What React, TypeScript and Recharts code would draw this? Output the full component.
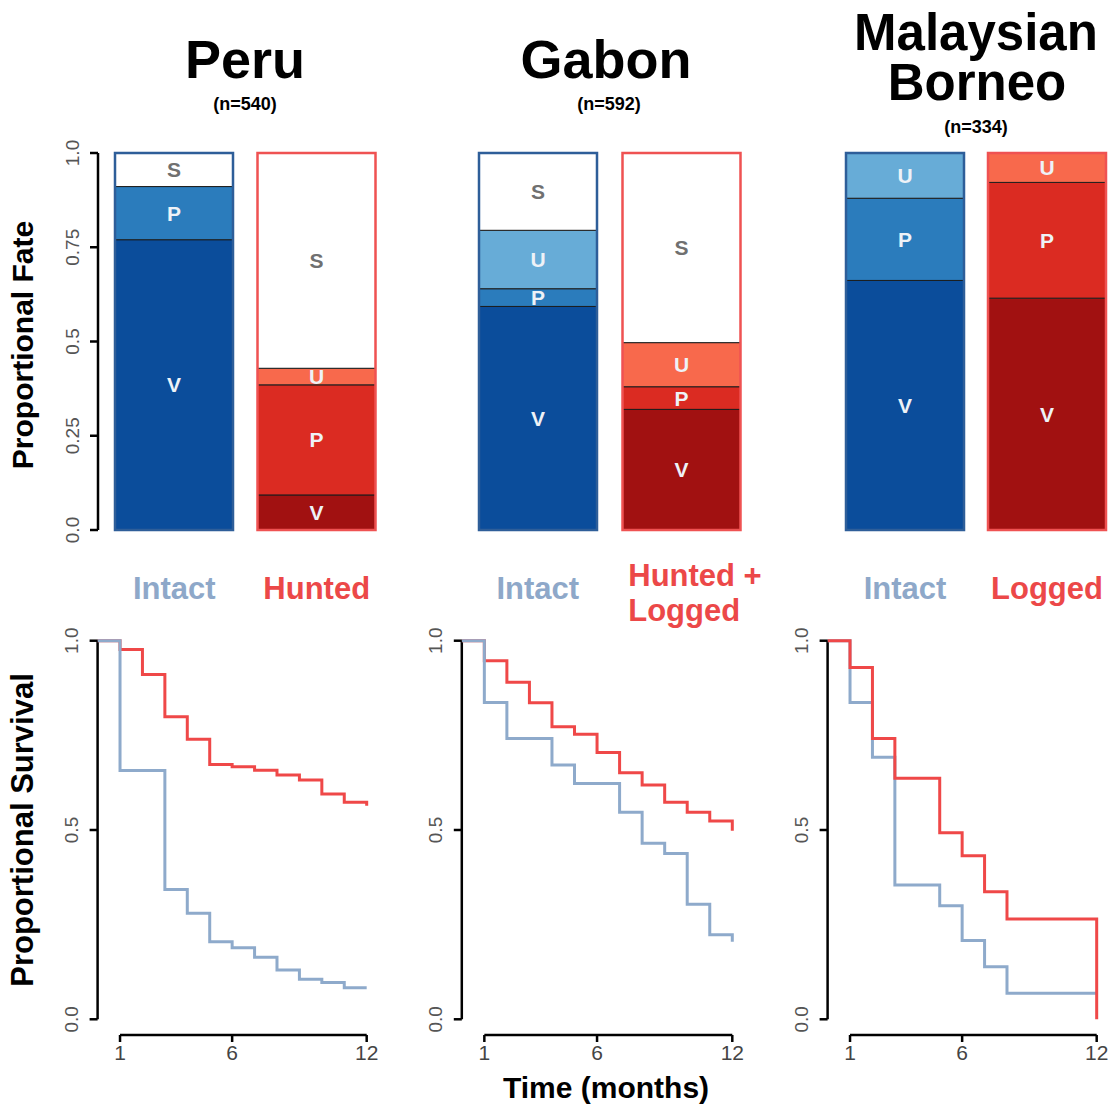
import React from 'react';
import {
  BarChart, Bar, XAxis, YAxis, Cell, LabelList,
  LineChart, Line, ReferenceLine,
} from 'recharts';

const FONT = '"Liberation Sans", Arial, Helvetica, sans-serif';

// proportional fate, top row (V, P, U, S segments)
const peruGroups = ['Intact', 'Hunted'];
const peruV = [0.77, 0.093];
const peruP = [0.141, 0.292];
const peruU = [0, 0.044];
const peruS = [0.089, 0.571];

const gabonGroups = ['Intact', 'Hunted +\nLogged'];
const gabonV = [0.593, 0.32];
const gabonP = [0.047, 0.06];
const gabonU = [0.155, 0.117];
const gabonS = [0.205, 0.503];

const borneoGroups = ['Intact', 'Logged'];
const borneoV = [0.662, 0.615];
const borneoP = [0.218, 0.307];
const borneoU = [0.12, 0.078];
const borneoS = [0, 0];

const fateTicks = [0, 0.25, 0.5, 0.75, 1];
const fateTickLabels = ['0.0', '0.25', '0.5', '0.75', '1.0'];

// proportional survival, bottom row
const months = [0, 1, 2, 3, 4, 5, 6, 7, 8, 9, 10, 11, 12];
const peruIntactSurv = [1, 0.657, 0.657, 0.343, 0.28, 0.205, 0.189, 0.164, 0.13, 0.106, 0.097, 0.083, 0.083];
const peruHuntedSurv = [1, 0.977, 0.911, 0.799, 0.74, 0.673, 0.667, 0.658, 0.645, 0.632, 0.595, 0.573, 0.564];
const gabonIntactSurv = [1, 0.837, 0.742, 0.742, 0.672, 0.623, 0.623, 0.547, 0.465, 0.438, 0.304, 0.223, 0.205];
const gabonHuntedSurv = [1, 0.947, 0.89, 0.836, 0.773, 0.753, 0.705, 0.651, 0.619, 0.573, 0.547, 0.524, 0.498];
const borneoIntactSurv = [1, 0.837, 0.692, 0.355, 0.355, 0.3, 0.208, 0.139, 0.069, 0.069, 0.069, 0.069, 0.069];
const borneoLoggedSurv = [1, 0.929, 0.742, 0.637, 0.637, 0.493, 0.432, 0.337, 0.265, 0.265, 0.265, 0.265, 0];

const survTicks = [0, 0.5, 1];
const survTickLabels = ['0.0', '0.5', '1.0'];
const monthTicks = [1, 6, 12];

const SEGMENTS = ['V', 'P', 'U', 'S'];
const segFills: Record<string, string>[] = [
  { V: '#0b4d9b', P: '#2b7cbc', U: '#67acd7', S: '#ffffff' },
  { V: '#a11111', P: '#db2b22', U: '#f8694c', S: '#ffffff' },
];
const frameColors = ['#2e5e99', '#ef5252'];
const groupColors = ['#8ea8c9', '#ec4848'];
const lineBlue = '#8eaacb';
const lineRed = '#ef4848';
const SURV_MIN = -0.0415;

const segmentLabel = (key: string) => (props: any) => {
  const vb = props.viewBox ?? props;
  const { x, y, width, height } = vb;
  if (!height || Math.abs(height) < 1) return null;
  return (
    <text
      x={x + width / 2}
      y={y + height / 2}
      textAnchor="middle"
      dominantBaseline="central"
      fill={key === 'S' ? '#707070' : '#eef2f7'}
      fontSize={21}
      fontWeight="bold"
      fontFamily={FONT}
    >
      {key}
    </text>
  );
};

const GroupTick = (props: any) => {
  const { x, y, payload } = props;
  const name = String(payload.value);
  const lines = name.split('\n');
  const color = name === 'Intact' ? groupColors[0] : groupColors[1];
  if (lines.length === 1) {
    return (
      <text x={x} y={y + 39} textAnchor="middle" fill={color} fontSize={31} fontWeight="bold" fontFamily={FONT}>
        {name}
      </text>
    );
  }
  // two-line label is left aligned, like the original
  return (
    <text textAnchor="start" fill={color} fontSize={31} fontWeight="bold" fontFamily={FONT}>
      {lines.map((l, i) => (
        <tspan key={i} x={x - 53} y={y + 26 + i * 35}>{l}</tspan>
      ))}
    </text>
  );
};

const rotTick = (values: number[], labels: string[]) => (props: any) => {
  const { x, y, payload } = props;
  const idx = values.indexOf(payload.value);
  return (
    <text
      x={x}
      y={y}
      transform={`rotate(-90 ${x} ${y})`}
      textAnchor="middle"
      dominantBaseline="central"
      fill="#555"
      fontSize={19}
      fontFamily={FONT}
    >
      {idx >= 0 ? labels[idx] : payload.value}
    </text>
  );
};

interface FateProps {
  groups: string[];
  v: number[];
  p: number[];
  u: number[];
  s: number[];
  left: number;
  width: number;
  right: number;
  withAxis?: boolean;
}

const FatePanel = ({ groups, v, p, u, s, left, width, right, withAxis }: FateProps) => {
  const data = groups.map((name, i) => ({
    name, V: v[i], P: p[i], U: u[i], S: s[i], total: v[i] + p[i] + u[i] + s[i],
  }));
  const pad = withAxis ? { left: 5, right: 0 } : { left: 0, right: 0 };
  return (
    <div style={{ position: 'absolute', left, top: 123, width, height: 522 }}>
      <BarChart
        width={width}
        height={522}
        data={data}
        barSize={118}
        margin={{ top: 30, right, bottom: 20, left: 0 }}
      >
        <XAxis
          xAxisId="seg"
          dataKey="name"
          axisLine={false}
          tickLine={false}
          tickSize={0}
          tickMargin={0}
          height={95}
          interval={0}
          padding={pad}
          tick={<GroupTick />}
        />
        <XAxis xAxisId="frame" dataKey="name" hide padding={pad} />
        <YAxis
          type="number"
          domain={[0, 1]}
          ticks={fateTicks}
          hide={!withAxis}
          width={98}
          stroke="#000"
          axisLine={{ stroke: '#000', strokeWidth: 2.5 }}
          tickLine={{ stroke: '#000', strokeWidth: 2.5 }}
          tickSize={8}
          tickMargin={18}
          tick={rotTick(fateTicks, fateTickLabels)}
        />
        {SEGMENTS.map((key) => (
          <Bar
            key={key}
            xAxisId="seg"
            dataKey={key}
            stackId="fate"
            stroke="#1c1c1c"
            strokeWidth={1}
            isAnimationActive={false}
          >
            {data.map((d, i) => (
              <Cell key={d.name} fill={segFills[i][key]} />
            ))}
            <LabelList dataKey={key} content={segmentLabel(key)} />
          </Bar>
        ))}
        <Bar xAxisId="frame" dataKey="total" fill="none" isAnimationActive={false}>
          {data.map((d, i) => (
            <Cell key={d.name} fill="none" stroke={frameColors[i]} strokeWidth={2.5} />
          ))}
        </Bar>
      </BarChart>
    </div>
  );
};

interface SurvProps {
  intact: number[];
  disturbed: number[];
  left: number;
  axisWidth: number;
  plotWidth: number;
  redOnTop?: boolean;
}

const SurvivalPanel = ({ intact, disturbed, left, axisWidth, plotWidth, redOnTop }: SurvProps) => {
  const data = months.map((t, i) => ({ t, intact: intact[i], disturbed: disturbed[i] }));
  const width = axisWidth + plotWidth + 13;
  const blueLine = (
    <Line key="intact" type="stepAfter" dataKey="intact" stroke={lineBlue} strokeWidth={3} dot={false} isAnimationActive={false} />
  );
  const redLine = (
    <Line key="disturbed" type="stepAfter" dataKey="disturbed" stroke={lineRed} strokeWidth={3} dot={false} isAnimationActive={false} />
  );
  return (
    <div style={{ position: 'absolute', left, top: 620, width, height: 455 }}>
      <LineChart width={width} height={455} data={data} margin={{ top: 20.7, right: 13, bottom: 0, left: 0 }}>
        <XAxis
          dataKey="t"
          type="number"
          domain={[0, 12]}
          ticks={monthTicks}
          interval={0}
          axisLine={false}
          tickLine={{ stroke: '#000', strokeWidth: 2.5 }}
          tickSize={7}
          tickMargin={3}
          height={40}
          tick={{ fill: '#444', fontSize: 21, fontFamily: FONT }}
        />
        <YAxis
          type="number"
          domain={[SURV_MIN, 1]}
          ticks={survTicks}
          width={axisWidth}
          axisLine={false}
          tickLine={{ stroke: '#000', strokeWidth: 2.5 }}
          tickSize={8}
          tickMargin={18}
          tick={rotTick(survTicks, survTickLabels)}
        />
        <ReferenceLine segment={[{ x: 0, y: 0 }, { x: 0, y: 1 }]} stroke="#000" strokeWidth={2.5} ifOverflow="visible" />
        <ReferenceLine segment={[{ x: 1, y: SURV_MIN }, { x: 12, y: SURV_MIN }]} stroke="#000" strokeWidth={2.5} ifOverflow="visible" />
        {redOnTop ? [blueLine, redLine] : [redLine, blueLine]}
      </LineChart>
    </div>
  );
};

const titleStyle = { fontFamily: FONT, fontWeight: 'bold' as const, fill: '#000' };

export default function App() {
  return (
    <div
      style={{
        position: 'absolute', left: 0, top: 0, width: 1112, height: 1114,
        overflow: 'hidden', background: '#fff', fontFamily: FONT,
      }}
    >
      <FatePanel groups={peruGroups} v={peruV} p={peruP} u={peruU} s={peruS} left={0} width={400} right={12} withAxis />
      <FatePanel groups={gabonGroups} v={gabonV} p={gabonP} u={gabonU} s={gabonS} left={466} width={317} right={30} />
      <FatePanel groups={borneoGroups} v={borneoV} p={borneoP} u={borneoU} s={borneoS} left={834} width={284} right={0} />

      <SurvivalPanel intact={peruIntactSurv} disturbed={peruHuntedSurv} left={0} axisWidth={97.6} plotWidth={269.1} />
      <SurvivalPanel intact={gabonIntactSurv} disturbed={gabonHuntedSurv} left={400} axisWidth={61.8} plotWidth={270.5} />
      <SurvivalPanel intact={borneoIntactSurv} disturbed={borneoLoggedSurv} left={770} axisWidth={57.6} plotWidth={269.1} redOnTop />

      <svg width={1112} height={1114} style={{ position: 'absolute', left: 0, top: 0, pointerEvents: 'none' }}>
        <text x={245} y={78} textAnchor="middle" fontSize={54} {...titleStyle}>Peru</text>
        <text x={245} y={110} textAnchor="middle" fontSize={18} {...titleStyle}>(n=540)</text>
        <text x={606} y={78} textAnchor="middle" fontSize={54} {...titleStyle}>Gabon</text>
        <text x={609} y={110} textAnchor="middle" fontSize={18} {...titleStyle}>(n=592)</text>
        <text x={976} y={50} textAnchor="middle" fontSize={51} {...titleStyle}>Malaysian</text>
        <text x={977} y={100} textAnchor="middle" fontSize={51} {...titleStyle}>Borneo</text>
        <text x={976} y={133} textAnchor="middle" fontSize={18} {...titleStyle}>(n=334)</text>
        <text x={33} y={345} transform="rotate(-90 33 345)" textAnchor="middle" fontSize={30} {...titleStyle}>
          Proportional Fate
        </text>
        <text x={33} y={830} transform="rotate(-90 33 830)" textAnchor="middle" fontSize={31} {...titleStyle}>
          Proportional Survival
        </text>
        <text x={606} y={1098} textAnchor="middle" fontSize={30} {...titleStyle}>Time (months)</text>
      </svg>
    </div>
  );
}
